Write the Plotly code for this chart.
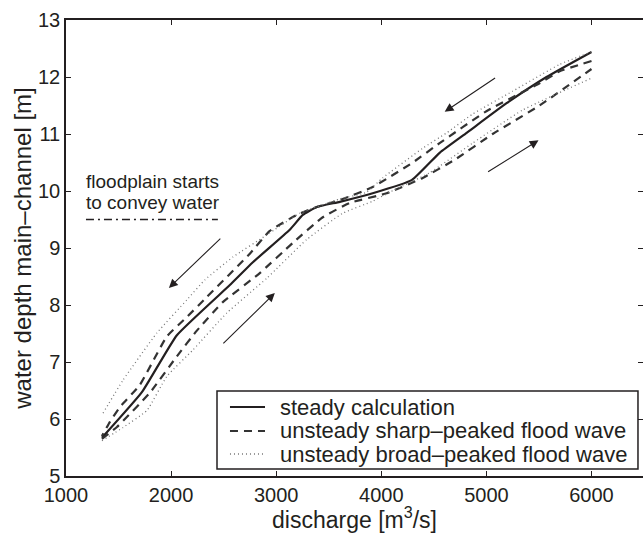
import plotly.graph_objects as go

# ---- data ----
steady_q = [1342, 1722, 2055, 2559, 2778, 3129, 3253, 3386, 3605, 3918, 4289, 4555, 4812, 5192, 5572, 6000]
steady_h = [5.67, 6.47, 7.47, 8.35, 8.75, 9.32, 9.58, 9.72, 9.81, 9.96, 10.19, 10.67, 11.02, 11.54, 12.00, 12.44]

sharp_rise_q = [1342, 1485, 1798, 2055, 2245, 2492, 2844, 3158, 3443, 3700, 4051, 4394, 4700, 5059, 5506, 6000]
sharp_rise_h = [5.65, 5.86, 6.46, 7.10, 7.55, 8.05, 8.56, 9.09, 9.54, 9.79, 9.96, 10.23, 10.55, 11.00, 11.50, 12.14]
sharp_fall_q = [6000, 5696, 5506, 5000, 4555, 4300, 3918, 3605, 3386, 3196, 2939, 2749, 2340, 2150, 1960, 1703, 1513, 1418, 1342]
sharp_fall_h = [12.28, 12.10, 11.89, 11.40, 10.84, 10.50, 10.07, 9.84, 9.72, 9.58, 9.30, 8.90, 8.14, 7.79, 7.45, 6.60, 6.21, 5.95, 5.70]

broad_rise_q = [1342, 1542, 1770, 1960, 2207, 2530, 2911, 3291, 3633, 3918, 4080, 4460, 4869, 5344, 6000]
broad_rise_h = [5.62, 5.85, 6.15, 6.75, 7.21, 7.86, 8.47, 9.15, 9.61, 9.82, 9.98, 10.32, 10.84, 11.42, 11.98]
broad_fall_q = [6000, 5696, 5249, 4869, 4622, 4394, 4013, 3861, 3605, 3224, 2911, 2587, 2321, 2150, 1865, 1542, 1342]
broad_fall_h = [12.44, 12.22, 11.75, 11.35, 11.02, 10.75, 10.23, 9.98, 9.86, 9.61, 9.23, 8.84, 8.44, 8.09, 7.51, 6.68, 6.07]

floodplain_q = [1190, 2445]
floodplain_h = [9.5, 9.5]
floodplain_text = ["floodplain starts", "to convey water"]
floodplain_text_h = [10.16, 9.79]

# arrows: (tail_q, tail_h, head_q, head_h)
arrows = [
    (2483, 9.19, 1979, 8.30),
    (2483, 7.30, 2987, 8.21),
    (5097, 12.00, 4603, 11.39),
    (5002, 10.32, 5496, 10.89),
]

series_names = ["steady calculation",
                "unsteady sharp\u2013peaked flood wave",
                "unsteady broad\u2013peaked flood wave"]

x_ticks = [1000, 2000, 3000, 4000, 5000, 6000]
y_ticks = [5, 6, 7, 8, 9, 10, 11, 12, 13]

INK = "#231f20"
FONT = "Liberation Sans, Arial, Helvetica, sans-serif"

styles = [
    dict(color=INK, width=2.2),
    dict(color="#333333", width=2.2, dash="8px,6px"),
    dict(color="#777777", width=1.3, dash="1px,3px"),
]

fig = go.Figure()

fig.add_trace(go.Scatter(x=steady_q, y=steady_h, mode="lines", name=series_names[0],
                         line=dict(shape="spline", smoothing=0.4, **styles[0])))
fig.add_trace(go.Scatter(x=sharp_rise_q + [None] + sharp_fall_q,
                         y=sharp_rise_h + [None] + sharp_fall_h,
                         mode="lines", name=series_names[1], connectgaps=False,
                         line=dict(shape="spline", smoothing=0.4, **styles[1])))
fig.add_trace(go.Scatter(x=broad_rise_q + [None] + broad_fall_q,
                         y=broad_rise_h + [None] + broad_fall_h,
                         mode="lines", name=series_names[2], connectgaps=False,
                         line=dict(shape="spline", smoothing=0.4, **styles[2])))
fig.add_trace(go.Scatter(x=floodplain_q, y=floodplain_h, mode="lines",
                         line=dict(color=INK, width=1.5, dash="8px,4px,2px,4px")))
# carrier for the right-hand tick marks
fig.add_trace(go.Scatter(x=[None], y=[None], yaxis="y2", mode="lines", hoverinfo="skip"))

for txt, h in zip(floodplain_text, floodplain_text_h):
    fig.add_annotation(x=1171, y=h, xref="x", yref="y", xanchor="left", yanchor="middle",
                       text=txt, showarrow=False, align="left",
                       font=dict(family=FONT, size=19, color=INK))

for tq, th, hq, hh in arrows:
    fig.add_annotation(x=hq, y=hh, ax=tq, ay=th, xref="x", yref="y", axref="x", ayref="y",
                       showarrow=True, arrowhead=2, arrowsize=1.6, arrowwidth=1.1,
                       arrowcolor=INK, text="")

# ---- legend box drawn in paper coordinates ----
L_x0, L_x1, L_y0, L_y1 = 0.2617, 0.9913, 0.0154, 0.1864
row_y = [0.1513, 0.0987, 0.0482]
samp_x0, samp_x1, text_x = 0.2842, 0.3449, 0.3674
fig.add_shape(type="rect", xref="paper", yref="paper", x0=L_x0, x1=L_x1, y0=L_y0, y1=L_y1,
              line=dict(color=INK, width=1.5), fillcolor="white", layer="above")
for name, st, ry in zip(series_names, styles, row_y):
    fig.add_shape(type="line", xref="paper", yref="paper", x0=samp_x0, x1=samp_x1, y0=ry, y1=ry,
                  line=st, layer="above")
    fig.add_annotation(x=text_x, y=ry, xref="paper", yref="paper", xanchor="left",
                       yanchor="middle", text=name, showarrow=False,
                       font=dict(family=FONT, size=22, color=INK))

tickfont = dict(family=FONT, size=20, color=INK)

fig.update_xaxes(range=[1000, 6490], tickvals=x_ticks, ticktext=[str(v) for v in x_ticks],
                 showline=True, linecolor=INK, linewidth=1.5, mirror="ticks",
                 ticks="inside", ticklen=5, tickwidth=1, tickcolor=INK,
                 showgrid=False, zeroline=False, tickfont=tickfont,
                 title=dict(text="discharge [m<sup>3</sup>/s]", standoff=10,
                            font=dict(family=FONT, size=23, color=INK)))
fig.update_yaxes(range=[5, 13], tickvals=y_ticks, ticktext=[str(v) for v in y_ticks],
                 showline=True, linecolor=INK, linewidth=1.5, mirror=False,
                 ticks="inside", ticklen=5, tickwidth=1, tickcolor=INK,
                 showgrid=False, zeroline=False, tickfont=tickfont,
                 title=dict(text="water depth main\u2013channel [m]", standoff=0,
                            font=dict(family=FONT, size=24, color=INK)))

fig.update_layout(
    width=643, height=533,
    margin=dict(l=66, r=0, t=20, b=57, autoexpand=False),
    plot_bgcolor="white", paper_bgcolor="white",
    font=dict(family=FONT, color=INK),
    showlegend=False,
    yaxis2=dict(overlaying="y", side="right", range=[5, 13], tickvals=y_ticks,
                ticks="inside", ticklen=5, tickwidth=1, tickcolor=INK,
                showticklabels=False, showline=False, showgrid=False, zeroline=False),
)

fig.write_html("out.html")
